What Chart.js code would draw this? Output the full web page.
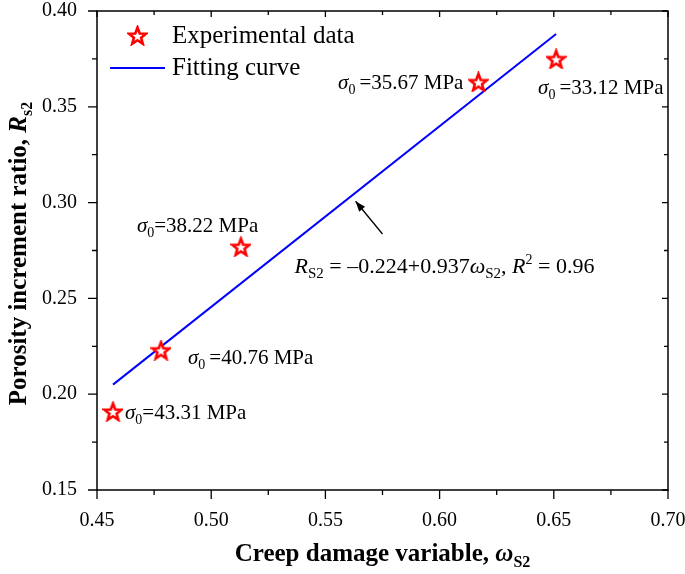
<!DOCTYPE html>
<html>
<head>
<meta charset="utf-8">
<script src="https://cdn.jsdelivr.net/npm/chart.js@4.4.1/dist/chart.umd.min.js"></script>
<style>
  html, body { margin: 0; padding: 0; background: #fff; }
  #wrap { width: 685px; height: 574px; }
</style>
</head>
<body>
<div id="wrap"><canvas id="chart"></canvas></div>
<script>
// data
const damage = [0.457, 0.478, 0.513, 0.617, 0.651];
const porosity = [0.191, 0.223, 0.277, 0.363, 0.375];
const stressLabels = ['43.31', '40.76', '38.22', '35.67', '33.12'];
const fitX = [0.457, 0.651];
const fitY = [0.205, 0.388];
const xTicks = [0.45, 0.50, 0.55, 0.60, 0.65, 0.70];
const yTicks = [0.15, 0.20, 0.25, 0.30, 0.35, 0.40];

const SERIF = '"Liberation Serif", "Times New Roman", serif';

// hollow red star marker
function makeStar(size) {
    const c = document.createElement('canvas');
    c.width = size; c.height = size;
    const g = c.getContext('2d');
    const cx = size / 2, cy = size / 2 + 1, R = size / 2 - 1.5, r = R * 0.42;
    g.beginPath();
    for (let i = 0; i < 10; i++) {
        const rad = i % 2 ? r : R;
        const a = -Math.PI / 2 + i * Math.PI / 5;
        g.lineTo(cx + rad * Math.cos(a), cy + rad * Math.sin(a));
    }
    g.closePath();
    g.fillStyle = '#fff';
    g.fill();
    g.lineWidth = 2.6;
    g.strokeStyle = '#ff0000';
    g.lineJoin = 'miter';
    g.stroke();
    return c;
}
const star = makeStar(21);

// draw text runs with italic / subscript parts
function runsWidth(ctx, runs) {
    let w = 0;
    runs.forEach(r => { ctx.font = r.font; w += ctx.measureText(r.t).width + (r.gap || 0); });
    return w;
}
function drawRuns(ctx, runs, x, y, align) {
    let w = runsWidth(ctx, runs);
    let cx = align === 'center' ? x - w / 2 : align === 'right' ? x - w : x;
    ctx.textBaseline = 'alphabetic';
    ctx.textAlign = 'left';
    runs.forEach(r => {
        ctx.font = r.font;
        ctx.fillText(r.t, cx, y + (r.dy || 0));
        cx += ctx.measureText(r.t).width + (r.gap || 0);
    });
}
function sigmaRuns(val, spaced) {
    return [
        { t: 'σ', font: 'italic 21px ' + SERIF },
        { t: '0', font: '14px ' + SERIF, dy: 5, gap: spaced ? 4 : 0 },
        { t: '=' + val + ' MPa', font: '21px ' + SERIF }
    ];
}

// label offsets (px) from each point
const labelOffsets = [
    { dx: 12, dy: 8, align: 'left', spaced: false },
    { dx: 27, dy: 14, align: 'left', spaced: true },
    { dx: -104, dy: -15, align: 'left', spaced: false },
    { dx: -15, dy: 7, align: 'right', spaced: true },
    { dx: -18, dy: 35, align: 'left', spaced: true }
];

const framePlugin = {
    id: 'frame',
    afterDraw(chart) {
        const ctx = chart.ctx;
        const a = chart.chartArea;
        const xs = chart.scales.x, ys = chart.scales.y;
        ctx.save();
        ctx.strokeStyle = '#000';
        ctx.fillStyle = '#000';
        ctx.lineWidth = 1.5;
        ctx.strokeRect(a.left, a.top, a.right - a.left, a.bottom - a.top);

        // ticks: majors and minors
        ctx.lineWidth = 1.3;
        ctx.beginPath();
        for (let i = 0; i < xTicks.length; i++) {
            const px = xs.getPixelForValue(xTicks[i]);
            ctx.moveTo(px, a.bottom); ctx.lineTo(px, a.bottom + 9);
            ctx.moveTo(px, a.top); ctx.lineTo(px, a.top + 6);
            if (i < xTicks.length - 1) {
                const pm = xs.getPixelForValue((xTicks[i] + xTicks[i + 1]) / 2);
                ctx.moveTo(pm, a.bottom); ctx.lineTo(pm, a.bottom + 5);
                ctx.moveTo(pm, a.top); ctx.lineTo(pm, a.top + 4);
            }
        }
        for (let i = 0; i < yTicks.length; i++) {
            const py = ys.getPixelForValue(yTicks[i]);
            ctx.moveTo(a.left, py); ctx.lineTo(a.left - 9, py);
            ctx.moveTo(a.right, py); ctx.lineTo(a.right - 6, py);
            if (i < yTicks.length - 1) {
                const pm = ys.getPixelForValue((yTicks[i] + yTicks[i + 1]) / 2);
                ctx.moveTo(a.left, pm); ctx.lineTo(a.left - 5, pm);
                ctx.moveTo(a.right, pm); ctx.lineTo(a.right - 4, pm);
            }
        }
        ctx.stroke();

        // point labels
        damage.forEach((d, i) => {
            const o = labelOffsets[i];
            const px = xs.getPixelForValue(d) + o.dx;
            const py = ys.getPixelForValue(porosity[i]) + o.dy;
            drawRuns(ctx, sigmaRuns(stressLabels[i], o.spaced), px, py, o.align);
        });

        // equation + arrow
        const ex = xs.getPixelForValue(0.5365), ey = ys.getPixelForValue(0.263);
        drawRuns(ctx, [
            { t: 'R', font: 'italic 22px ' + SERIF },
            { t: 'S2', font: '15px ' + SERIF, dy: 5 },
            { t: ' = \u20130.224+0.937', font: '22px ' + SERIF },
            { t: 'ω', font: 'italic 22px ' + SERIF },
            { t: 'S2', font: '15px ' + SERIF, dy: 5 },
            { t: ', ', font: '22px ' + SERIF },
            { t: 'R', font: 'italic 22px ' + SERIF },
            { t: '2', font: '14px ' + SERIF, dy: -9 },
            { t: ' = 0.96', font: '22px ' + SERIF }
        ], ex, ey, 'left');

        const tx = xs.getPixelForValue(0.575), ty = ys.getPixelForValue(0.2836);
        const hx = xs.getPixelForValue(0.5632), hy = ys.getPixelForValue(0.3007);
        ctx.lineWidth = 1.3;
        ctx.beginPath();
        ctx.moveTo(tx, ty); ctx.lineTo(hx, hy);
        ctx.stroke();
        const ang = Math.atan2(hy - ty, hx - tx);
        ctx.beginPath();
        ctx.moveTo(hx, hy);
        ctx.lineTo(hx - 11 * Math.cos(ang - 0.35), hy - 11 * Math.sin(ang - 0.35));
        ctx.lineTo(hx - 11 * Math.cos(ang + 0.35), hy - 11 * Math.sin(ang + 0.35));
        ctx.closePath();
        ctx.fill();

        // legend
        ctx.drawImage(star, a.left + 30, a.top + 14);
        ctx.strokeStyle = '#0000ff';
        ctx.lineWidth = 2;
        ctx.beginPath();
        ctx.moveTo(a.left + 13, a.top + 57); ctx.lineTo(a.left + 68, a.top + 57);
        ctx.stroke();
        ctx.fillStyle = '#000';
        ctx.font = '25px ' + SERIF;
        ctx.textBaseline = 'middle';
        ctx.fillText('Experimental data', a.left + 75, a.top + 25);
        ctx.fillText('Fitting curve', a.left + 75, a.top + 57);

        // axis titles
        drawRuns(ctx, [
            { t: 'Creep damage variable, ', font: 'bold 25px ' + SERIF },
            { t: 'ω', font: 'bold italic 25px ' + SERIF },
            { t: 'S2', font: 'bold 16px ' + SERIF, dy: 6 }
        ], (a.left + a.right) / 2, 561, 'center');

        ctx.save();
        ctx.translate(26, (a.top + a.bottom) / 2 + 3);
        ctx.rotate(-Math.PI / 2);
        drawRuns(ctx, [
            { t: 'Porosity increment ratio, ', font: 'bold 25px ' + SERIF },
            { t: 'R', font: 'bold italic 25px ' + SERIF },
            { t: 's2', font: 'bold 16px ' + SERIF, dy: 6 }
        ], 0, 0, 'center');
        ctx.restore();

        ctx.restore();
    }
};

new Chart(document.getElementById('chart'), {
    type: 'scatter',
    data: {
        datasets: [{
            label: 'Experimental data',
            data: damage.map((d, i) => ({ x: d, y: porosity[i] })),
            pointStyle: star,
            pointRadius: 10,
            pointHoverRadius: 10
        }, {
            label: 'Fitting curve',
            data: fitX.map((d, i) => ({ x: d, y: fitY[i] })),
            showLine: true,
            borderColor: '#0000ff',
            borderWidth: 2,
            pointRadius: 0,
            fill: false
        }]
    },
    options: {
        responsive: true,
        maintainAspectRatio: false,
        animation: false,
        layout: { padding: { top: 8, right: 17, left: 0, bottom: 0 } },
        plugins: { legend: { display: false }, tooltip: { enabled: false } },
        scales: {
            x: {
                min: 0.45, max: 0.70,
                afterBuildTicks: s => { s.ticks = xTicks.map(v => ({ value: v })); },
                ticks: {
                    callback: v => v.toFixed(2),
                    font: { family: SERIF, size: 20 },
                    color: '#000',
                    padding: 11,
                    maxRotation: 0
                },
                grid: { display: false },
                border: { display: false },
                afterFit: s => { s.height = 84; s.paddingLeft = 0; s.paddingRight = 0; }
            },
            y: {
                min: 0.15, max: 0.40,
                afterBuildTicks: s => { s.ticks = yTicks.map(v => ({ value: v })); },
                ticks: {
                    callback: v => v.toFixed(2),
                    font: { family: SERIF, size: 20 },
                    color: '#000',
                    padding: 12
                },
                grid: { display: false },
                border: { display: false },
                afterFit: s => { s.width = 97; s.paddingTop = 0; s.paddingBottom = 0; }
            }
        }
    },
    plugins: [framePlugin]
});
</script>
</body>
</html>
